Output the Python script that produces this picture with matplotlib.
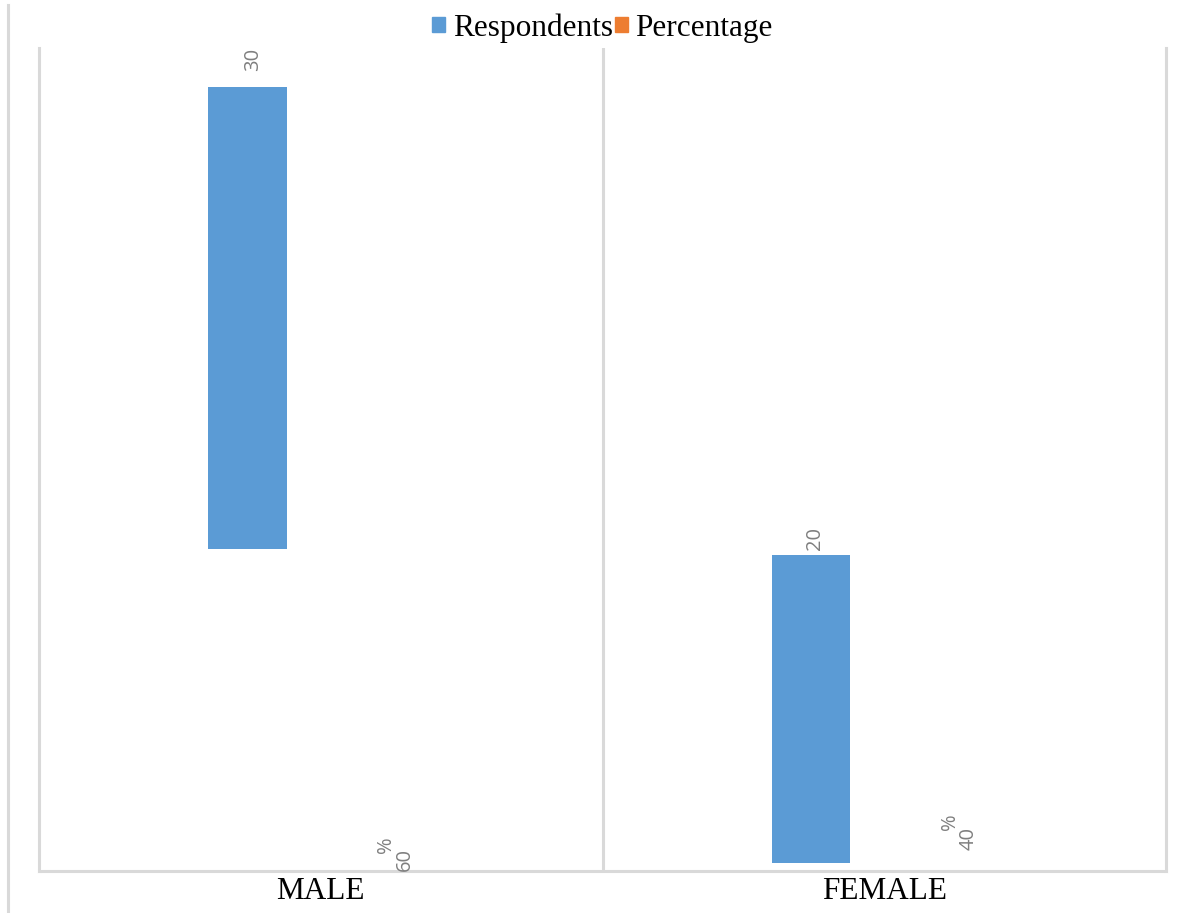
import numpy as np
import matplotlib
matplotlib.use("Agg")
import matplotlib.pyplot as plt
from matplotlib.patches import Patch
from matplotlib.lines import Line2D

# Data
categories = ["MALE", "FEMALE"]
respondents = [30, 20]
respondents_start = [20.9, 0.5]
percentage = [60, 40]

# Colours / fonts
blue = "#5B9BD5"
orange = "#ED7D31"
grid_grey = "#D9D9D9"
label_grey = "#7F7F7F"
serif = "Liberation Serif"
sans = "Open Sans"

fig = plt.figure(figsize=(11.86, 9.13), dpi=100)
ax = fig.add_axes([39 / 1186, 1 - 871 / 913, (1166 - 39) / 1186, (871 - 48) / 913])

x = np.arange(len(categories))
w = 0.139
off = 0.13

bars_r = ax.bar(x - off, respondents, w, bottom=respondents_start, color=blue, zorder=3)
bars_p = ax.bar(x + off, np.array(percentage) / 100, w, color="none", zorder=3)

ax.set_xlim(-0.5, len(categories) - 0.5)
ax.set_ylim(0, 53.4)

# Respondent labels (rotated, above bars)
r_shift = [(6, 16), (4, 5)]
for b, v, (dx, dy) in zip(bars_r, respondents, r_shift):
    ax.annotate(str(v), (b.get_x() + b.get_width() / 2, b.get_y() + b.get_height()),
                xytext=(dx, dy), textcoords="offset pixels", rotation=90,
                ha="center", va="bottom", fontsize=14.5, family=sans, color=label_grey)

# Percentage labels: number and sign on separate lines
p_shift = [((11, 0), (-8, 18)), ((11.5, 21), (-7.5, 41))]
for b, v, (num_off, pct_off) in zip(bars_p, percentage, p_shift):
    xc = b.get_x() + b.get_width() / 2
    ax.annotate(str(v), (xc, 0), xytext=num_off, textcoords="offset pixels",
                rotation=90, ha="center", va="bottom", fontsize=14.5, family=sans,
                color=label_grey)
    ax.annotate("%", (xc, 0), xytext=pct_off, textcoords="offset pixels",
                rotation=90, ha="center", va="bottom", fontsize=14.5, family=sans,
                color=label_grey)

# Axes styling
for s in ["left", "right", "bottom"]:
    ax.spines[s].set_color(grid_grey)
    ax.spines[s].set_linewidth(2.2)
ax.spines["top"].set_visible(False)
ax.axvline(0.5, color=grid_grey, lw=2.2, zorder=1)

ax.set_yticks([])
ax.set_xticks(x)
ax.set_xticklabels(categories, family=serif, fontsize=22.5)
ax.tick_params(axis="x", length=0, pad=4)

# Legend on top
handles = [Patch(color=blue, label="Respondents"), Patch(color=orange, label="Percentage")]
ax.legend(handles=handles, loc="center", bbox_to_anchor=(0.5, 1.024), ncol=2, frameon=False,
          prop={"family": serif, "size": 22.5}, handlelength=0.42, handleheight=0.38,
          handletextpad=0.25, columnspacing=0.05, borderpad=0)

# Outer chart border (left edge only)
fig.add_artist(Line2D([8 / 1186, 8 / 1186], [0, 1 - 5 / 913], color=grid_grey, lw=2.2))

fig.savefig("out.png", dpi=100)
